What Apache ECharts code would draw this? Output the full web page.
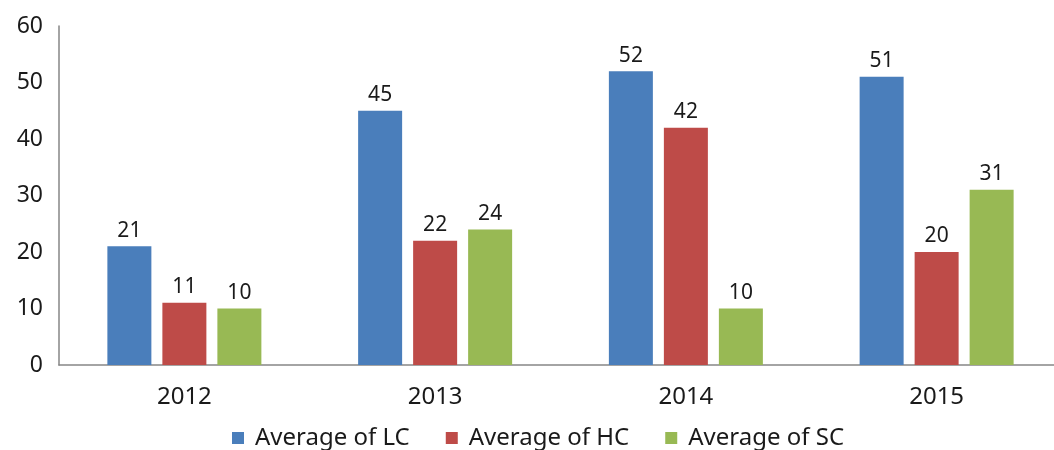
<!DOCTYPE html>
<html>
<head>
<meta charset="utf-8">
<script src="https://cdn.jsdelivr.net/npm/echarts@6/dist/echarts.min.js"></script>
<style>
  html, body { margin: 0; padding: 0; background: #fff; }
  #chart { width: 1054px; height: 450px; }
</style>
</head>
<body>
<div id="chart"></div>
<script>
// Yearly averages per measure
const years = ['2012', '2013', '2014', '2015'];
const seriesNames = ['Average of LC', 'Average of HC', 'Average of SC'];
const lcValues = [21, 45, 52, 51];
const hcValues = [11, 22, 42, 20];
const scValues = [10, 24, 10, 31];
const yTicks = [0, 10, 20, 30, 40, 50, 60];

const colors = ['#4a7ebb', '#be4b48', '#98b954'];
const font = '"Noto Sans", "Open Sans", sans-serif';

function barSeries(name, data, color) {
  return {
    name: name,
    type: 'bar',
    data: data,
    barWidth: 44,
    barGap: '25%',
    itemStyle: { color: color },
    label: {
      show: true,
      position: 'top',
      distance: 5,
      color: '#1a1a1a',
      fontSize: 21,
      fontFamily: font
    }
  };
}

const chart = echarts.init(document.getElementById('chart'));
chart.setOption({
  animation: false,
  grid: { left: 59, top: 26, width: 1003, bottom: 85, outerBoundsMode: 'none', containLabel: false },
  legend: {
    top: 421,
    left: 227,
    itemWidth: 12,
    itemHeight: 12,
    itemGap: 36,
    icon: 'rect',
    textStyle: { fontSize: 24, color: '#1a1a1a', fontFamily: font, padding: [0, 0, 0, 6] },
    data: seriesNames
  },
  xAxis: {
    type: 'category',
    data: years,
    axisLine: { lineStyle: { color: '#868686', width: 1.5 } },
    axisTick: { show: false },
    axisLabel: { fontSize: 24, color: '#1a1a1a', fontFamily: font, margin: 20 }
  },
  yAxis: {
    type: 'value',
    min: yTicks[0],
    max: yTicks[yTicks.length - 1],
    interval: 10,
    axisLine: { show: true, lineStyle: { color: '#868686', width: 1.5 } },
    axisTick: { show: false },
    splitLine: { show: false },
    axisLabel: { fontSize: 23, color: '#1a1a1a', fontFamily: font, margin: 16 }
  },
  series: [
    barSeries(seriesNames[0], lcValues, colors[0]),
    barSeries(seriesNames[1], hcValues, colors[1]),
    barSeries(seriesNames[2], scValues, colors[2])
  ]
});
</script>
</body>
</html>
